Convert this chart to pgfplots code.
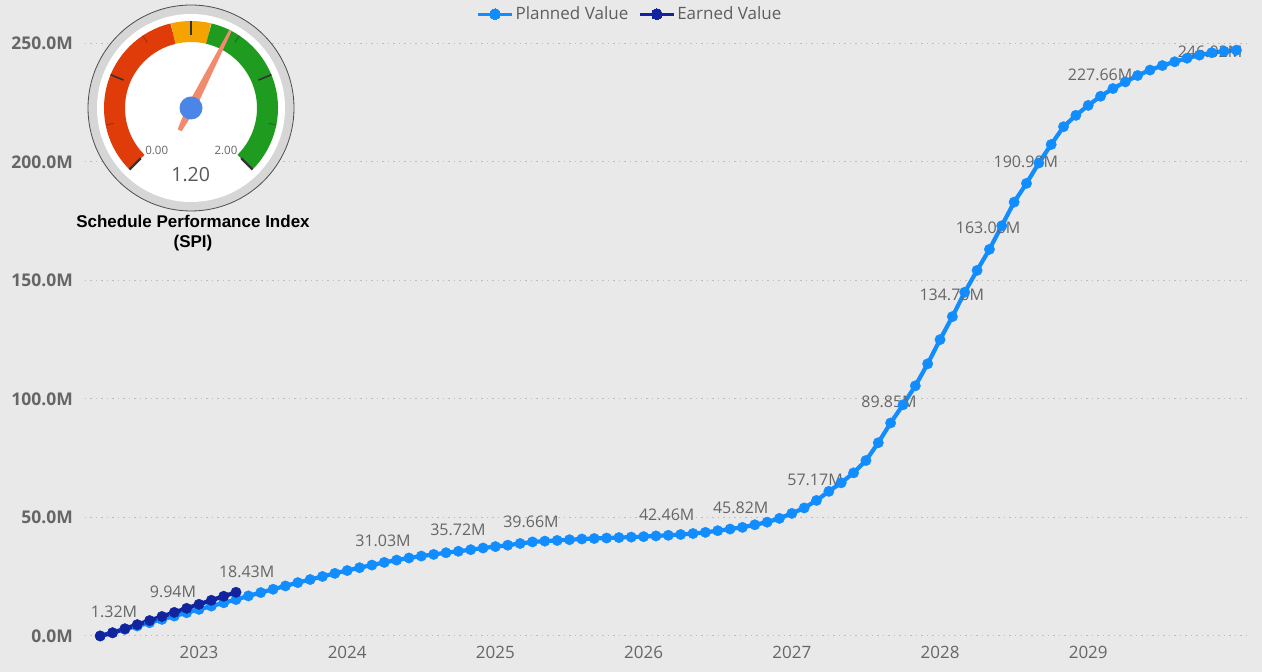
\documentclass[border=0pt]{standalone}
\usepackage{fontspec}
\setmainfont{Open Sans}
\newfontfamily\arialfont{Liberation Sans}
\usepackage{pgfplots}
\pgfplotsset{compat=1.18}
\usepackage{pgfplotstable}

\definecolor{bg}{HTML}{E9E9E9}
\definecolor{pv}{HTML}{118DFF}
\definecolor{ev}{HTML}{12239E}
\definecolor{txt}{HTML}{666666}
\definecolor{leg}{HTML}{605E5C}
\definecolor{gridc}{HTML}{BDBDBD}
\definecolor{gred}{HTML}{E03C0A}
\definecolor{gorange}{HTML}{F5A300}
\definecolor{ggreen}{HTML}{1F9B1F}
\definecolor{needle}{HTML}{F28A6E}
\definecolor{hub}{HTML}{4A86E8}
\definecolor{ring}{HTML}{D6D6D6}

\tikzset{lbl/.style={font=\fontsize{16}{18}\selectfont, text=txt, inner sep=0pt, anchor=center}}

% month index: 0 = Jan 2023
\pgfplotstableread{
m v
-8 0.0
-7 1.4
-6 2.8
-5 4.2
-4 5.6
-3 7.0
-2 8.4
-1 9.8
0 11.2
1 12.6
2 14.0
3 15.36
4 16.9
5 18.3
6 19.7
7 21.1
8 22.5
9 23.8
10 25.1
11 26.4
12 27.6
13 28.8
14 29.9
15 31.03
16 32.0
17 32.9
18 33.7
19 34.4
20 35.1
21 35.72
22 36.4
23 37.1
24 37.7
25 38.3
26 39.0
27 39.66
28 40.0
29 40.3
30 40.6
31 40.9
32 41.1
33 41.3
34 41.5
35 41.7
36 41.9
37 42.2
38 42.46
39 42.8
40 43.2
41 43.7
42 44.4
43 45.1
44 45.82
45 46.9
46 48.0
47 49.6
48 51.7
49 54.0
50 57.17
51 61.0
52 64.6
53 68.8
54 74.0
55 81.5
56 89.85
57 97.5
58 105.5
59 114.8
60 125.0
61 134.70
62 145.0
63 154.2
64 163.08
65 173.0
66 183.0
67 190.90
68 199.5
69 207.3
70 214.8
71 219.6
72 223.8
73 227.66
74 230.9
75 233.7
76 236.4
77 238.7
78 240.6
79 242.2
80 243.7
81 245.0
82 246.02
83 246.6
84 247.1
}\pvtable

\pgfplotstableread{
m v
-8 0.0
-7 1.32
-6 3.05
-5 4.78
-4 6.50
-3 8.22
-2 9.94
-1 11.65
0 13.35
1 15.05
2 16.75
3 18.43
}\evtable

\begin{document}
\begin{tikzpicture}[x=1pt,y=1pt]
\fill[bg] (0,0) rectangle (1262,672);
\begin{axis}[
  at={(85pt,32pt)}, anchor=south west,
  scale only axis, width=1165pt, height=610pt,
  xmin=-9.23, xmax=85.1, ymin=-1.7, ymax=255.6,
  axis line style={draw=none}, tick style={draw=none},
  xtick={0,12,24,36,48,60,72},
  xticklabels={2023,2024,2025,2026,2027,2028,2029},
  ytick={0,50,100,150,200,250},
  yticklabels={0.0M,50.0M,100.0M,150.0M,200.0M,250.0M},
  xticklabel style={font=\fontsize{17}{20}\selectfont, text=txt, anchor=north, inner sep=0pt, yshift=-6pt},
  yticklabel style={font=\fontsize{17.5}{20}\selectfont\bfseries, text=txt, anchor=east, inner sep=0pt, xshift=-12pt},
  ymajorgrids,
  major grid style={gridc, line width=1pt, dash pattern=on 1.5pt off 4pt},
  legend style={at={(0.4678,1.026)}, anchor=center, legend columns=2, draw=none, fill=none,
    font=\fontsize{17}{20}\selectfont, text=leg, inner sep=0pt,
    /tikz/every even column/.append style={column sep=8pt}},
  legend cell align=left,
  legend image code/.code={\draw[#1, mark=none, line width=3pt] (0pt,0pt) -- (34pt,0pt); \fill[#1, line width=0pt] (17pt,0pt) circle (5.5pt);},
  clip=false,
]
\addplot[pv, line width=4.2pt, mark=*, mark size=5.2pt, mark options={line width=0.4pt, fill=pv, draw=pv}] table[x=m,y=v]{\pvtable};
\addlegendentry{Planned Value}
\addplot[ev, line width=4.2pt, mark=*, mark size=5.2pt, mark options={line width=0.4pt, fill=ev, draw=ev}] table[x=m,y=v]{\evtable};
\addlegendentry{Earned Value}

\node[lbl] at (axis cs:-6.88,10.33) {1.32M};
\node[lbl] at (axis cs:-2.11,18.77) {9.94M};
\node[lbl] at (axis cs:3.86,27.2) {18.43M};
\node[lbl] at (axis cs:14.9,40.07) {31.03M};
\node[lbl] at (axis cs:20.97,44.7) {35.72M};
\node[lbl] at (axis cs:26.88,48.29) {39.66M};
\node[lbl] at (axis cs:37.87,51.03) {42.46M};
\node[lbl] at (axis cs:43.86,53.99) {45.82M};
\node[lbl] at (axis cs:49.88,65.8) {57.17M};
\node[lbl] at (axis cs:55.87,98.7) {89.85M};
\node[lbl] at (axis cs:60.95,143.8) {134.70M};
\node[lbl] at (axis cs:63.89,172.1) {163.08M};
\node[lbl] at (axis cs:66.95,200.0) {190.90M};
\node[lbl] at (axis cs:72.96,236.6) {227.66M};
\node[lbl] at (axis cs:81.86,246.4) {246.02M};
\end{axis}

% ---- SPI gauge ----
\coordinate (C) at (191,564);
\fill[ring] (C) circle (103pt);
\draw[gray!60!black, line width=0.8pt] (C) circle (103pt);
\fill[white] (C) circle (94pt);
\draw[gred, line width=21pt] ([shift={(225:76.5pt)}]C) arc[start angle=225, end angle=103.5, radius=76.5pt];
\draw[gorange, line width=21pt] ([shift={(103.5:76.5pt)}]C) arc[start angle=103.5, end angle=76.5, radius=76.5pt];
\draw[ggreen, line width=21pt] ([shift={(76.5:76.5pt)}]C) arc[start angle=76.5, end angle=-45, radius=76.5pt];
\foreach \a in {157.5,90,22.5}
  \draw[black!80, line width=1.6pt] ([shift={(\a:87pt)}]C) -- ([shift={(\a:73pt)}]C);
\foreach \a in {225,-45}
  \draw[black!80, line width=2.2pt] ([shift={(\a:87pt)}]C) -- ([shift={(\a:71pt)}]C);
\foreach \a in {191.25,123.75,56.25,-11.25}
  \draw[black, opacity=0.25, line width=1pt] ([shift={(\a:87pt)}]C) -- ([shift={(\a:79pt)}]C);
\node[font=\fontsize{11.5}{12}\selectfont, text=txt, inner sep=0pt] at (156.7,522) {0.00};
\node[font=\fontsize{11.5}{12}\selectfont, text=txt, inner sep=0pt] at (226,522) {2.00};
\node[font=\fontsize{19.5}{20}\selectfont, text=black!65, inner sep=0pt] at (190.7,497) {1.20};
\begin{scope}[shift={(C)}, rotate=-27]
  \fill[needle] (-1.3,87) -- (1.3,87) -- (4.5,0) -- (2.2,-25) -- (-2.2,-25) -- (-4.5,0) -- cycle;
\end{scope}
\fill[hub] (C) circle (11.5pt);
\node[font=\arialfont\bfseries\fontsize{17}{20}\selectfont, align=center, inner sep=0pt] at (193,439) {Schedule Performance Index\\(SPI)};

\pgfresetboundingbox
\path (0,0) rectangle (1262,672);
\end{tikzpicture}
\end{document}
